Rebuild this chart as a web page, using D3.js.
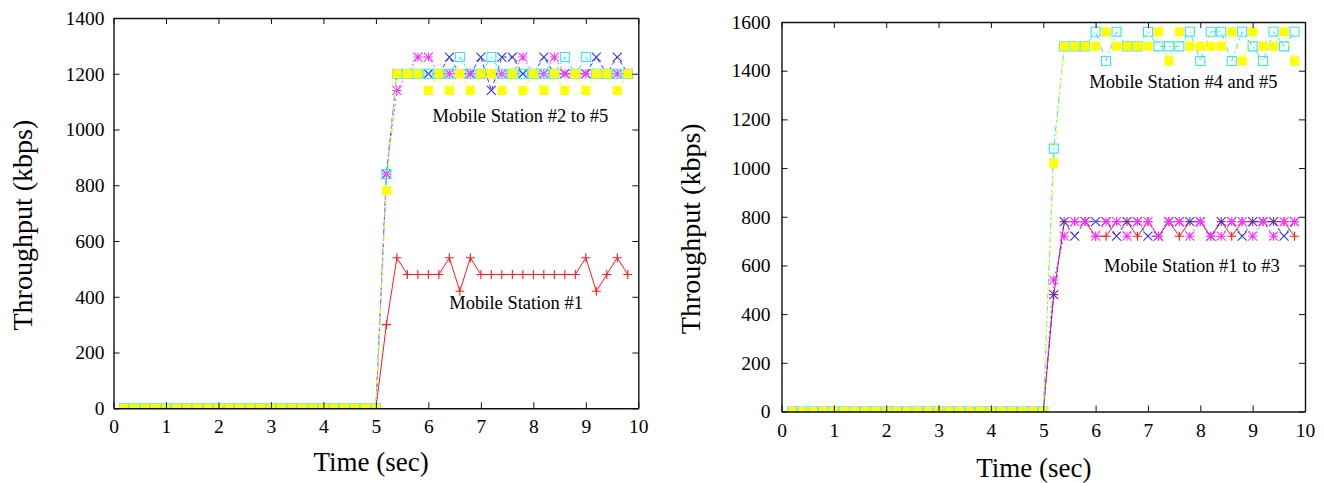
<!DOCTYPE html>
<html>
<head>
<meta charset="utf-8">
<script src="https://cdn.jsdelivr.net/npm/d3@7"></script>
<style>
body { margin: 0; background: #fff; }
svg text { font-family: "Liberation Serif", "Times New Roman", serif; fill: #000; }
</style>
</head>
<body>
<svg id="chart" width="1324" height="483"></svg>
<script>
// sample times (sec)
var times = [0.2,0.4,0.6,0.8,1.0,1.2,1.4,1.6,1.8,2.0,2.2,2.4,2.6,2.8,3.0,3.2,3.4,3.6,3.8,4.0,4.2,4.4,4.6,4.8,5.0,
             5.2,5.4,5.6,5.8,6.0,6.2,6.4,6.6,6.8,7.0,7.2,7.4,7.6,7.8,8.0,8.2,8.4,8.6,8.8,9.0,9.2,9.4,9.6,9.8];

var xTicks = [0,1,2,3,4,5,6,7,8,9,10];
var yTicksLeft = [0,200,400,600,800,1000,1200,1400];
var yTicksRight = [0,200,400,600,800,1000,1200,1400,1600];

// left chart: throughput (kbps)
var leftMs1 = [0,0,0,0,0,0,0,0,0,0,0,0,0,0,0,0,0,0,0,0,0,0,0,0,0,
  300, 540,480,480,480,480,540,420,540,480,480,480,480,480,480,480,480,480,480,540,420,480,540,480];
var leftMs2 = [0,0,0,0,0,0,0,0,0,0,0,0,0,0,0,0,0,0,0,0,0,0,0,0,0,
  840, 1200,1200,1200,1200,1200,1260,1200,1200,1260,1140,1260,1260,1200,1200,1260,1200,1200,1200,1200,1260,1200,1260,1200];
var leftMs3 = [0,0,0,0,0,0,0,0,0,0,0,0,0,0,0,0,0,0,0,0,0,0,0,0,0,
  840, 1140,1200,1260,1260,1200,1200,1200,1200,1200,1200,1200,1200,1260,1200,1200,1260,1200,1200,1200,1200,1200,1200,1200];
var leftMs4 = [0,0,0,0,0,0,0,0,0,0,0,0,0,0,0,0,0,0,0,0,0,0,0,0,0,
  840, 1200,1200,1200,1200,1200,1200,1260,1200,1200,1260,1200,1200,1200,1200,1200,1200,1260,1200,1260,1200,1200,1200,1200];
var leftMs5 = [0,0,0,0,0,0,0,0,0,0,0,0,0,0,0,0,0,0,0,0,0,0,0,0,0,
  780, 1200,1200,1200,1140,1200,1140,1200,1140,1200,1200,1140,1200,1140,1200,1140,1200,1140,1200,1140,1200,1200,1140,1200];

// right chart: throughput (kbps)
var rightMs1 = [0,0,0,0,0,0,0,0,0,0,0,0,0,0,0,0,0,0,0,0,0,0,0,0,0,
  480, 780,780,780,720,720,780,780,720,780,720,780,720,780,780,720,780,720,780,780,780,780,780,720];
var rightMs2 = [0,0,0,0,0,0,0,0,0,0,0,0,0,0,0,0,0,0,0,0,0,0,0,0,0,
  480, 780,720,780,780,780,720,780,780,720,720,780,780,780,780,720,780,780,720,780,780,780,720,780];
var rightMs3 = [0,0,0,0,0,0,0,0,0,0,0,0,0,0,0,0,0,0,0,0,0,0,0,0,0,
  540, 720,780,780,720,780,780,720,780,780,720,780,780,720,780,720,720,780,780,720,780,720,780,780];
var rightMs4 = [0,0,0,0,0,0,0,0,0,0,0,0,0,0,0,0,0,0,0,0,0,0,0,0,0,
  1080, 1500,1500,1500,1560,1440,1560,1500,1500,1560,1500,1500,1500,1560,1440,1560,1560,1440,1560,1500,1440,1560,1500,1560];
var rightMs5 = [0,0,0,0,0,0,0,0,0,0,0,0,0,0,0,0,0,0,0,0,0,0,0,0,0,
  1020, 1500,1500,1500,1500,1560,1500,1500,1500,1500,1560,1440,1560,1500,1500,1500,1500,1560,1440,1560,1500,1500,1560,1440];

var leftNotes = [{text: "Mobile Station #2 to #5", t: 6.08, v: 1027},
                 {text: "Mobile Station #1", t: 6.40, v: 356}];
var rightNotes = [{text: "Mobile Station #4 and #5", t: 5.88, v: 1329},
                  {text: "Mobile Station #1 to #3", t: 6.16, v: 573}];

// one style per station, same in both charts
var styles = {
  ms1: {color: "#ff1a1a", dash: null,      mark: "plus"},
  ms2: {color: "#3333ff", dash: "4,3",     mark: "cross"},
  ms3: {color: "#ff33ff", dash: "2,3",     mark: "star"},
  ms4: {color: "#33e6f0", dash: "6,3,2,3", mark: "box"},
  ms5: {color: "#ffff00", dash: "5,3,1,3", mark: "fbox"}
};

var serif = "Liberation Serif, Times New Roman, serif";
var svg = d3.select("#chart");

function markPath(kind) {
  var r = 4.5;
  if (kind == "plus") return "M" + -r + ",0H" + r + "M0," + -r + "V" + r;
  if (kind == "cross") return "M" + -r + "," + -r + "L" + r + "," + r + "M" + -r + "," + r + "L" + r + "," + -r;
  if (kind == "star") return "M" + -r + ",0H" + r + "M0," + -r + "V" + r +
      "M" + -r + "," + -r + "L" + r + "," + r + "M" + -r + "," + r + "L" + r + "," + -r;
  return "M-4.5,-4.5H4.5V4.5H-4.5Z";
}

function panel(cfg) {
  var width = cfg.width, height = cfg.height;
  var g = svg.append("g")
      .attr("transform", "translate(" + cfg.left + "," + cfg.top + ")");

  var x = d3.scaleLinear().domain([0, 10]).range([0, width]);
  var y = d3.scaleLinear().domain([0, cfg.ymax]).range([height, 0]);

  g.append("clipPath").attr("id", cfg.id)
    .append("rect").attr("width", width).attr("height", height);

  var plot = g.append("g").attr("clip-path", "url(#" + cfg.id + ")");

  var line = d3.line()
      .x(function(d) { return x(d[0]); })
      .y(function(d) { return y(d[1]); });

  cfg.series.forEach(function(s) {
    var st = styles[s.key];
    var pts = times.map(function(t, i) { return [t, s.values[i]]; });

    plot.append("path")
      .datum(pts)
      .attr("fill", "none")
      .attr("stroke", st.color)
      .attr("stroke-width", 1)
      .attr("stroke-dasharray", st.dash)
      .attr("d", line);

    plot.append("g").selectAll("path")
      .data(pts)
      .enter().append("path")
      .attr("transform", function(d) { return "translate(" + x(d[0]) + "," + y(d[1]) + ")"; })
      .attr("d", markPath(st.mark))
      .attr("fill", st.mark == "fbox" ? st.color : "none")
      .attr("stroke", st.mark == "fbox" ? "none" : st.color)
      .attr("stroke-width", 1.1);
  });

  // axes, ticks inward on all four sides
  var fmt = d3.format("d");
  var bottom = g.append("g")
      .attr("transform", "translate(0," + height + ")")
      .call(d3.axisBottom(x).tickValues(xTicks).tickFormat(fmt)
        .tickSizeInner(-6).tickSizeOuter(0).tickPadding(cfg.xPad));
  var left = g.append("g")
      .call(d3.axisLeft(y).tickValues(cfg.yTicks).tickFormat(fmt)
        .tickSizeInner(-6).tickSizeOuter(0).tickPadding(cfg.yPad));
  var top = g.append("g")
      .call(d3.axisTop(x).tickValues(xTicks).tickSizeInner(-6).tickSizeOuter(0).tickFormat(""));
  var right = g.append("g")
      .attr("transform", "translate(" + width + ",0)")
      .call(d3.axisRight(y).tickValues(cfg.yTicks).tickSizeInner(-6).tickSizeOuter(0).tickFormat(""));

  [bottom, left, top, right].forEach(function(a) {
    a.attr("font-family", serif).attr("font-size", 19.5);
    a.select(".domain").attr("stroke", "#111").attr("stroke-width", 1.4);
    a.selectAll(".tick line").attr("stroke", "#111");
  });

  // annotations
  g.selectAll(".note")
    .data(cfg.notes)
    .enter().append("text")
    .attr("class", "note")
    .attr("x", function(d) { return x(d.t); })
    .attr("y", function(d) { return y(d.v); })
    .attr("font-family", serif)
    .attr("font-size", 18.5)
    .text(function(d) { return d.text; });

  g.append("text")
    .attr("x", x(cfg.titleT))
    .attr("y", height + cfg.titleDy)
    .attr("text-anchor", "middle")
    .attr("font-family", serif)
    .attr("font-size", 27)
    .text("Time (sec)");

  g.append("text")
    .attr("transform", "translate(" + cfg.yTitleX + "," + (height / 2 + 12) + ") rotate(-90)")
    .attr("text-anchor", "middle")
    .attr("font-family", serif)
    .attr("font-size", 28)
    .text("Throughput (kbps)");
}

panel({
  id: "clipL", left: 113.5, top: 18, width: 524.8, height: 390.3, ymax: 1400,
  yTicks: yTicksLeft, xPad: 11, yPad: 9, titleT: 4.91, titleDy: 63, yTitleX: -82,
  notes: leftNotes,
  series: [{key: "ms1", values: leftMs1}, {key: "ms2", values: leftMs2},
           {key: "ms3", values: leftMs3}, {key: "ms4", values: leftMs4},
           {key: "ms5", values: leftMs5}]
});

panel({
  id: "clipR", left: 781.5, top: 22, width: 523.5, height: 389.5, ymax: 1600,
  yTicks: yTicksRight, xPad: 12, yPad: 11, titleT: 4.82, titleDy: 65, yTitleX: -82,
  notes: rightNotes,
  series: [{key: "ms1", values: rightMs1}, {key: "ms2", values: rightMs2},
           {key: "ms3", values: rightMs3}, {key: "ms4", values: rightMs4},
           {key: "ms5", values: rightMs5}]
});
</script>
</body>
</html>
